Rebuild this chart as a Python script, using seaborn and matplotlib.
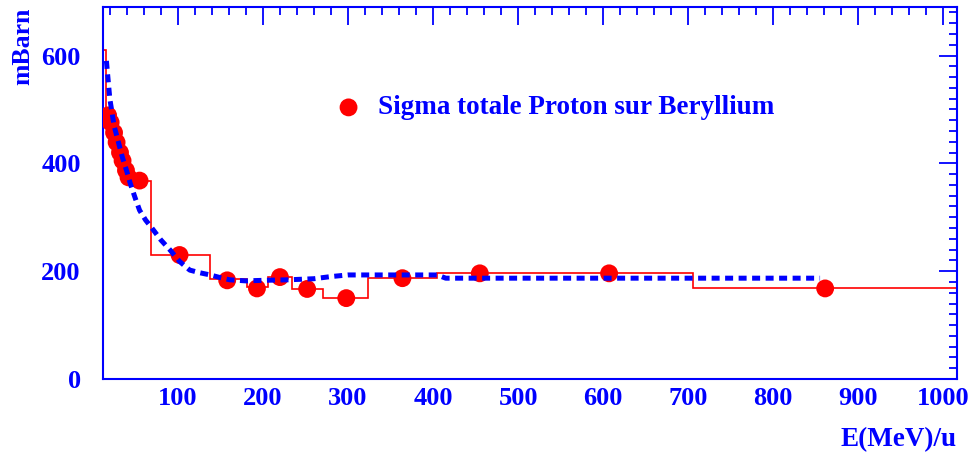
import matplotlib
matplotlib.use('Agg')
import matplotlib.pyplot as plt
from matplotlib.ticker import MultipleLocator
import seaborn as sns
import pandas as pd
import numpy as np

# measured points (E in MeV/u, sigma in mBarn)
energy = [18, 21, 25, 28, 32, 35, 39, 42, 55, 102, 158, 193, 220, 252, 298, 364, 455, 607, 861]
sigma = [489, 476, 457, 439, 420, 405, 387, 374, 368, 230, 183, 168, 189, 167, 150, 187, 196, 196, 168]

# red histogram: bin edges and contents
bin_edges = [12, 16, 19.5, 23, 26.5, 30, 33.5, 37, 40.5, 48, 69, 138, 181, 206, 234, 271, 324, 405, 531, 706, 1016]
bin_values = [610, 489, 476, 457, 439, 420, 405, 387, 374, 368, 230, 185, 170, 189, 167, 150, 187, 196, 196, 168]

# blue dashed model curve
model_e = [16, 20, 25, 30, 35, 40, 44, 50, 55, 62, 69, 80, 91, 102, 114, 126, 138, 150, 161, 180,
           200, 230, 260, 280, 300, 330, 360, 405, 415, 500, 600, 700, 800, 855]
model_sigma = [590, 520, 470, 440, 410, 385, 363, 335, 313, 295, 281, 258, 239, 218, 202, 197, 193, 188, 184, 182,
               183, 184, 186, 190, 193, 193, 193, 193, 187, 187, 187, 187, 187, 187]

sns.set_style('white')
plt.rcParams['font.family'] = ['Liberation Serif', 'DejaVu Serif']
plt.rcParams['font.weight'] = 'bold'

fig = plt.figure(figsize=(9.77, 4.55), dpi=100)
ax = fig.add_axes([103 / 977, 76 / 455, 854 / 977, 372 / 455])

df_points = pd.DataFrame({'E': energy, 'sigma': sigma})
df_model = pd.DataFrame({'E': model_e, 'sigma': model_sigma})

ax.stairs(bin_values, bin_edges, color='red', linewidth=1.2, baseline=0, zorder=2)

sns.lineplot(data=df_model, x='E', y='sigma', ax=ax, color='blue', linewidth=3.6,
             linestyle=(0, (1.6, 1.1)), estimator=None, sort=False, zorder=4)

sns.scatterplot(data=df_points, x='E', y='sigma', ax=ax, color='red', s=165, marker='o',
                edgecolor='none', label='Sigma totale Proton sur Beryllium', zorder=3)

ax.set_xlim(12, 1016)
ax.set_ylim(0, 690)

ax.xaxis.set_major_locator(MultipleLocator(100))
ax.xaxis.set_minor_locator(MultipleLocator(20))
ax.yaxis.set_major_locator(MultipleLocator(200))
ax.yaxis.set_minor_locator(MultipleLocator(20))

ax.tick_params(axis='both', which='both', direction='in', top=True, right=True,
               color='blue', labelcolor='blue', labelsize=19)
ax.tick_params(axis='both', which='major', length=13, width=1.3)
ax.tick_params(axis='both', which='minor', length=6, width=1.3)
ax.tick_params(axis='y', which='major', pad=16)
ax.tick_params(axis='x', which='major', pad=6)

for spine in ax.spines.values():
    spine.set_color('blue')
    spine.set_linewidth(1.5)

ax.set_xlabel('E(MeV)/u', loc='right', color='blue', fontsize=19.5, fontweight='bold')
ax.xaxis.set_label_coords(1.0, -0.13)
ax.set_ylabel('mBarn', loc='top', color='blue', fontsize=18.5, fontweight='bold')
ax.yaxis.set_label_coords(-0.08, 0.997)

leg = ax.legend(loc='center left', bbox_to_anchor=(335 / 977, 1 - 108 / 455),
                bbox_transform=fig.transFigure, frameon=False, borderpad=0, borderaxespad=0,
                handlelength=1.0, handletextpad=0.6, prop={'family': 'Liberation Serif', 'weight': 'bold', 'size': 19.5})
for t in leg.get_texts():
    t.set_color('blue')

fig.savefig('out.png', dpi=100)
